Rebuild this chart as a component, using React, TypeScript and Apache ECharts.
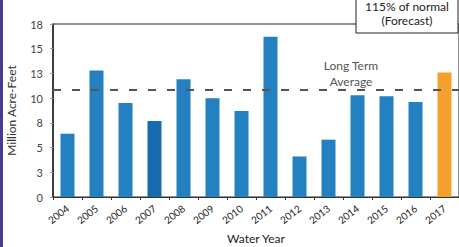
import React, { useEffect, useRef } from "react";
import * as echarts from "echarts";

const years = ["2004","2005","2006","2007","2008","2009","2010","2011","2012","2013","2014","2015","2016","2017"];
const volumes = [6.4, 12.8, 9.5, 7.7, 11.9, 10.0, 8.7, 16.2, 4.1, 5.8, 10.3, 10.2, 9.6, 12.6];
const longTermAverage = 10.8;
const yTicks = { min: 0, max: 17.5, interval: 2.5 };

const FONT = "Lato, 'Open Sans', sans-serif";

export default function App() {
  const ref = useRef<HTMLDivElement>(null);
  useEffect(() => {
    document.body.style.margin = "0";
    const chart = echarts.init(ref.current!, null, { renderer: "svg" });
    const data = volumes.map((v, i) => ({
      value: v,
      itemStyle: {
        color: years[i] === "2017" ? "#f5a02c" : years[i] === "2007" ? "#146cae" : "#2381c2",
      },
    }));
    chart.setOption({
      animation: false,
      backgroundColor: "#ffffff",
      textStyle: { fontFamily: FONT },
      grid: {
        left: 53, right: 0, top: 24, bottom: 50,
        outerBoundsMode: "none",
        containLabel: false,
        show: true, borderColor: "#222", borderWidth: 1, backgroundColor: "transparent",
      },
      xAxis: {
        type: "category",
        data: years,
        name: "Water Year",
        nameLocation: "middle",
        nameGap: 35,
        nameTextStyle: { fontSize: 12, color: "#222", fontFamily: FONT },
        axisLine: { lineStyle: { color: "#333", width: 1 } },
        axisTick: { show: true, length: 3, lineStyle: { color: "#333" } },
        axisLabel: { rotate: 38, fontSize: 10, color: "#222", margin: 10, fontFamily: FONT, interval: 0 },
      },
      yAxis: {
        type: "value",
        min: yTicks.min,
        max: yTicks.max,
        interval: yTicks.interval,
        name: "Million Acre-Feet",
        nameLocation: "middle",
        nameGap: 36,
        nameTextStyle: { fontSize: 12, color: "#333", fontFamily: FONT },
        axisLine: { show: true, lineStyle: { color: "#222", width: 1.5 } },
        axisTick: { show: true, length: 3, lineStyle: { color: "#999" } },
        axisLabel: {
          fontSize: 11, color: "#444", margin: 10, fontFamily: FONT,
          formatter: (v: number) => String(Math.round(v)),
        },
        splitLine: { show: false },
      },
      series: [
        {
          type: "bar",
          data,
          barWidth: 14,
          markLine: {
            symbol: "none",
            silent: true,
            label: { show: false },
            lineStyle: { color: "#555", type: [8, 11], width: 2 },
            data: [{ yAxis: longTermAverage }],
          },
        },
      ],
      graphic: [
        { type: "rect", shape: { x: 0, y: 0, width: 3, height: 247 }, style: { fill: "#4a3c8c" } },
        {
          type: "text", x: 351, y: 65,
          style: { text: "Long Term", fill: "#555", fontSize: 12, fontFamily: FONT, align: "center", verticalAlign: "middle" },
        },
        {
          type: "text", x: 351, y: 81,
          style: { text: "Average", fill: "#555", fontSize: 12, fontFamily: FONT, align: "center", verticalAlign: "middle" },
        },
        {
          type: "rect", shape: { x: 356, y: -5, width: 102, height: 38 },
          style: { fill: "#fff", stroke: "#222", lineWidth: 1 },
        },
        {
          type: "text", x: 407, y: 6,
          style: { text: "115% of normal", fill: "#222", fontSize: 12, fontFamily: FONT, align: "center", verticalAlign: "middle" },
        },
        {
          type: "text", x: 407, y: 20,
          style: { text: "(Forecast)", fill: "#222", fontSize: 12, fontFamily: FONT, align: "center", verticalAlign: "middle" },
        },
      ],
    });
    return () => chart.dispose();
  }, []);
  return <div ref={ref} style={{ width: 459, height: 247 }} />;
}
